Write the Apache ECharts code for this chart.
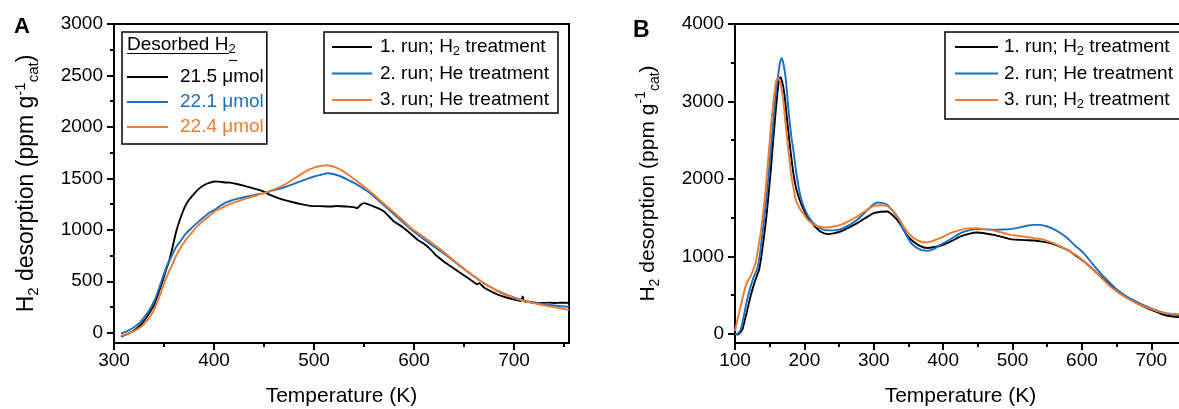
<!DOCTYPE html>
<html><head><meta charset="utf-8">
<script src="https://cdn.jsdelivr.net/npm/echarts@6/dist/echarts.min.js"></script>
<style>html,body{margin:0;padding:0;background:#fff}#c{width:1179px;height:409px}</style>
</head><body><div id="c"></div>
<script>
// ---------- DATA ----------
// Panel A: [Temperature K, H2 desorption]
const runA1 = [[307,-39],[314,-10],[320.7,26],[326,70],[330.7,124],[336,200],[340.7,286],[345,400],[349,513],[352,610],[355.7,715],[359,850],[362.4,990],[366,1100],[370.7,1220],[375,1292],[380.7,1357],[385,1400],[390.7,1438],[396,1458],[400.7,1470],[405,1468],[410.7,1460],[416,1459],[425,1440],[433,1420],[441,1398],[449.7,1372],[455,1345],[459.7,1324],[468,1295],[476,1275],[486,1252],[496,1233],[506,1230],[516,1226],[524,1232],[533,1226],[540,1220],[543,1210],[547,1245],[550,1259],[555,1245],[560,1226],[565,1205],[570,1178],[575,1130],[580,1081],[585,1050],[590,1016],[597,960],[603.5,903],[610,865],[617,805],[622,752],[630,690],[637,644],[645,590],[654,531],[660,490],[663,470],[665,482],[670,440],[677,401],[685,365],[694,337],[702,318],[707,308],[708.7,352],[710,306],[714,300],[720,292],[727,288],[735,292],[740,289],[747,291],[755,290]];
const runA2 = [[307,-10],[314,20],[320.7,58],[326,100],[330.7,156],[336,230],[340.7,318],[345,430],[349,545],[353,650],[357.4,740],[362,830],[367.4,903],[372,965],[377.4,1016],[384,1075],[390.7,1130],[396,1170],[400.7,1195],[405,1225],[410.7,1260],[416,1280],[423,1300],[433,1324],[441,1340],[450,1356],[458,1380],[467,1404],[475,1430],[483.5,1460],[492,1490],[500,1518],[507,1535],[513.4,1550],[520,1540],[527,1518],[535,1480],[543.5,1437],[552,1385],[560,1324],[568,1255],[577,1178],[587,1090],[597,1005],[607,930],[617,858],[627,790],[637,718],[647,640],[657,568],[667,500],[677,442],[687,392],[697,352],[707,322],[717,298],[727,282],[740,265],[755,252]];
const runA3 = [[307,-32],[314,-8],[320.7,19],[326,50],[330.7,91],[336,155],[340.7,237],[345,340],[349,448],[353,550],[357.4,643],[362,745],[367.4,837],[372,905],[377.4,968],[384,1040],[390.7,1097],[396,1140],[400.7,1178],[405,1200],[410.7,1227],[416,1252],[425,1282],[433,1307],[441,1330],[450,1356],[458,1385],[467,1421],[475,1465],[483.5,1518],[492,1570],[500,1605],[507,1620],[513.4,1628],[520,1612],[527,1583],[535,1530],[543.5,1469],[552,1405],[560,1340],[568,1270],[577,1194],[587,1108],[597,1018],[607,950],[617,880],[627,806],[637,725],[647,645],[657,570],[667,498],[677,440],[687,385],[697,348],[707,318],[717,293],[727,272],[740,248],[755,222]];
// Panel B
const runB1 = [[100,-5],[104,-10],[107,10],[110.7,55],[114,170],[117.9,314],[121.5,450],[125.1,572],[130,710],[134.7,830],[138,1000],[141.9,1260],[145.5,1530],[149,1862],[151.5,2100],[153.9,2378],[156,2600],[158.4,2850],[161,3100],[163.5,3280],[165.6,3312],[167.5,3270],[170.3,3148],[173,2950],[175.2,2750],[178,2520],[180.3,2340],[184,2080],[188,1880],[192,1760],[196.8,1646],[203,1530],[208,1460],[215,1388],[223,1320],[232.9,1286],[242,1295],[252,1320],[264,1370],[276,1428],[288,1495],[300,1557],[310,1575],[319.3,1578],[326,1540],[333.7,1471],[340,1390],[348,1270],[357,1190],[367,1130],[377,1106],[388,1120],[400,1148],[412,1195],[425,1256],[437,1290],[449,1307],[461,1295],[473,1277],[485,1250],[497,1221],[510,1212],[520,1208],[531,1204],[543,1190],[555,1170],[567,1130],[579,1084],[590,1015],[603,933],[615,840],[627,740],[639,640],[651,546],[663,475],[675,417],[687,360],[699,310],[711,268],[723,232],[745,210]];
const runB2 = [[100,-5],[104,0],[108.3,55],[112,200],[115.5,356],[119,490],[122.7,614],[127,730],[132.3,850],[136,1030],[139.5,1290],[143,1560],[146.7,1862],[149,2110],[151.5,2378],[154,2620],[156.5,2880],[159,3120],[161.7,3300],[164,3460],[166,3540],[167.5,3557],[169.5,3500],[171.5,3400],[173,3300],[175,3110],[177.5,2848],[181,2560],[184.7,2331],[189,2040],[194.4,1772],[201,1600],[208.8,1471],[218,1390],[228,1342],[240,1335],[252,1351],[264,1400],[276,1471],[290,1590],[298,1660],[305,1695],[312,1690],[319.3,1665],[326,1600],[333.7,1514],[340,1400],[348,1256],[355,1160],[362.5,1106],[370,1080],[377,1070],[387,1095],[396,1148],[405,1190],[414,1240],[425,1299],[437,1335],[449,1351],[461,1348],[473,1342],[485,1345],[497,1351],[509,1370],[521,1394],[531,1405],[540,1406],[550,1385],[559.4,1351],[569,1300],[578.7,1235],[590,1140],[602.6,1041],[615,905],[626.7,783],[639,670],[650.7,568],[663,490],[674.6,430],[687,375],[698.7,331],[711,290],[722.8,258],[745,232]];
const runB3 = [[100,34],[104,200],[108.2,356],[112,500],[115.4,614],[119,690],[122.6,743],[126,820],[129.8,916],[133,1080],[137,1303],[140.5,1560],[144.2,1862],[149,2378],[152,2700],[155,2960],[157.5,3160],[159.8,3277],[162,3300],[164,3280],[166,3220],[168,3120],[170.5,2930],[172.8,2718],[175,2530],[177.5,2330],[181,2050],[184.7,1860],[187.5,1733],[193,1620],[199.4,1539],[206,1460],[213.8,1410],[223,1380],[232.9,1372],[242,1385],[252,1406],[264,1455],[276,1514],[288,1585],[300,1652],[310,1660],[319.3,1652],[326,1600],[333.7,1523],[340,1430],[348,1320],[357,1240],[367.3,1191],[377,1180],[386.5,1204],[398,1245],[410.5,1299],[425,1342],[437,1360],[449,1364],[461,1350],[473,1333],[485,1305],[497,1277],[509,1262],[521,1248],[533,1232],[545,1213],[557,1175],[569,1127],[581,1070],[593,1006],[605,920],[617,826],[629,715],[641,610],[653,530],[665,460],[677,400],[689,353],[701,315],[713,280],[725,262],[745,250]];

// Tick values
const xMajorA = [300,400,500,600,700];
const xMinorA = [350,450,550,650,750];
const yMajorA = [0,500,1000,1500,2000,2500,3000];
const yMinorA = [250,750,1250,1750,2250,2750];
const xMajorB = [100,200,300,400,500,600,700];
const xMinorB = [150,250,350,450,550,650];
const yMajorB = [0,1000,2000,3000,4000];
const yMinorB = [500,1500,2500,3500];

// Legend texts
const runLabelsA = ['1. run; H{s|2} treatment','2. run; He treatment','3. run; He treatment'];
const runLabelsB = ['1. run; H{s|2} treatment','2. run; He treatment','3. run; H{s|2} treatment'];
const amountLabels = ['21.5 μmol','22.1 μmol','22.4 μmol'];

// ---------- STYLE ----------
const FONT = '"Liberation Sans", Arial, Helvetica, sans-serif';
const COLORS = ['#000000','#1b6ec2','#ee7b30'];
const AX = '#000';

const chart = echarts.init(document.getElementById('c'), null, {renderer:'canvas'});

function xAxisPair(grid, min, max, major, minor, nameGap) {
  return [
    {type:'value', gridIndex:grid, position:'bottom', min, max,
     axisLine:{show:true, onZero:false, lineStyle:{color:AX,width:2}},
     axisTick:{show:true, inside:false, length:7, customValues:major, lineStyle:{color:AX,width:2}},
     axisLabel:{show:true, customValues:major, fontSize:19, fontFamily:FONT, color:'#000', margin:8,
                formatter: v => String(v)},
     splitLine:{show:false},
     name:'Temperature (K)', nameLocation:'middle', nameGap:nameGap,
     nameTextStyle:{fontSize:21, fontFamily:FONT, color:'#000'}},
    {type:'value', gridIndex:grid, position:'bottom', min, max,
     axisLine:{show:false, onZero:false},
     axisTick:{show:true, inside:false, length:4, customValues:minor, lineStyle:{color:AX,width:2}},
     axisLabel:{show:false}, splitLine:{show:false}}
  ];
}
const yName = '{a|H}{s|2}{a| desorption (ppm g}{p|-1}{s|cat}{a|)}';
function yNameStyle(fs, ss, pad) {
  return {fontSize:fs, fontFamily:FONT, color:'#000', padding:pad,
    rich:{a:{fontSize:fs, fontFamily:FONT, lineHeight:28},
          s:{fontSize:ss, fontFamily:FONT, lineHeight:4, verticalAlign:'bottom'},
          p:{fontSize:ss, fontFamily:FONT, lineHeight:12, verticalAlign:'top'}}};
}
function yAxisPair(grid, min, max, major, minor, nameGap, nameStyle) {
  return [
    {type:'value', gridIndex:grid, position:'left', min, max,
     axisLine:{show:true, onZero:false, lineStyle:{color:AX,width:2}},
     axisTick:{show:true, inside:false, length:7, customValues:major, lineStyle:{color:AX,width:2}},
     axisLabel:{show:true, customValues:major, fontSize:19, fontFamily:FONT, color:'#000', margin:11,
                formatter: v => String(v)},
     splitLine:{show:false},
     name:yName, nameLocation:'middle', nameGap:nameGap, nameRotate:90,
     nameTextStyle:nameStyle},
    {type:'value', gridIndex:grid, position:'left', min, max,
     axisLine:{show:false, onZero:false},
     axisTick:{show:true, inside:false, length:4, customValues:minor, lineStyle:{color:AX,width:2}},
     axisLabel:{show:false}, splitLine:{show:false}}
  ];
}

function lineSeries(name, data, xi, yi, color) {
  return {type:'line', name, data, xAxisIndex:xi, yAxisIndex:yi,
    symbol:'none', showSymbol:false, smooth:0.2, clip:true,
    lineStyle:{width:1.9, color}, itemStyle:{color}};
}

const series = [
  lineSeries('runA1', runA1, 0, 0, COLORS[0]),
  lineSeries('runA2', runA2, 0, 0, COLORS[1]),
  lineSeries('runA3', runA3, 0, 0, COLORS[2]),
  lineSeries('runB1', runB1, 2, 2, COLORS[0]),
  lineSeries('runB2', runB2, 2, 2, COLORS[1]),
  lineSeries('runB3', runB3, 2, 2, COLORS[2]),
  lineSeries('molA1', [], 0, 0, COLORS[0]),
  lineSeries('molA2', [], 0, 0, COLORS[1]),
  lineSeries('molA3', [], 0, 0, COLORS[2])
];

const labelMap = {
  runA1: runLabelsA[0], runA2: runLabelsA[1], runA3: runLabelsA[2],
  runB1: runLabelsB[0], runB2: runLabelsB[1], runB3: runLabelsB[2],
  molA1: amountLabels[0], molA2: amountLabels[1], molA3: amountLabels[2]
};
const legendRich = {s:{fontSize:13, fontFamily:FONT, lineHeight:2, verticalAlign:'bottom'}};
function legendBase(extra) {
  return Object.assign({
    orient:'vertical', icon:'rect', itemHeight:2, selectedMode:false,
    borderColor:'#000', borderWidth:1.5, borderRadius:0, backgroundColor:'#fff',
    formatter: n => labelMap[n]
  }, extra);
}

const option = {
  animation:false,
  backgroundColor:'#fff',
  grid:[
    {left:114, top:24, width:455, height:319, show:true, borderColor:'#000', borderWidth:2, backgroundColor:'transparent',
     containLabel:false, outerBoundsMode:'none'},
    {left:735, top:24, width:451, height:319, show:true, borderColor:'#000', borderWidth:2, backgroundColor:'transparent',
     containLabel:false, outerBoundsMode:'none'}
  ],
  xAxis:[
    ...xAxisPair(0, 300, 755, xMajorA, xMinorA, 43),
    ...xAxisPair(1, 100, 750, xMajorB, xMinorB, 43)
  ],
  yAxis:[
    ...yAxisPair(0, -100, 3000, yMajorA, yMinorA, 73, yNameStyle(23, 15, 0)),
    ...yAxisPair(1, -120, 4000, yMajorB, yMinorB, 73, yNameStyle(21, 14, 0))
  ],
  legend:[
    legendBase({left:324, top:32, padding:[4,9,2,8], itemGap:4.5, itemWidth:40,
      data:['runA1','runA2','runA3'],
      textStyle:{fontSize:19, fontFamily:FONT, color:'#000', lineHeight:22, padding:[0,0,0,3], rich:legendRich}}),
    legendBase({left:945, top:32, padding:[4,9,8,10], itemGap:4.5, itemWidth:43,
      data:['runB1','runB2','runB3'],
      textStyle:{fontSize:19, fontFamily:FONT, color:'#000', lineHeight:22, padding:[0,0,0,1], rich:legendRich}}),
    legendBase({left:122, top:32, padding:[34,3,6,5], itemGap:3, itemWidth:41,
      data:[{name:'molA1', textStyle:{color:COLORS[0]}},{name:'molA2', textStyle:{color:COLORS[1]}},{name:'molA3', textStyle:{color:COLORS[2]}}],
      textStyle:{fontSize:19, fontFamily:FONT, color:'#000', lineHeight:22, padding:[0,0,0,7]}})
  ],
  graphic:[
    {type:'text', left:14, top:16, z:100, style:{text:'A', font:'bold 22px '+FONT, fill:'#000'}},
    {type:'text', left:633, top:19, z:100, style:{text:'B', font:'bold 23px '+FONT, fill:'#000'}},
    {type:'text', left:127, top:34, z:100, style:{text:'Desorbed H{s|2}', fontSize:19, fontFamily:FONT, fill:'#000', lineHeight:22,
      rich:{s:{fontSize:13, fontFamily:FONT, lineHeight:2, verticalAlign:'bottom'}}}},
    {type:'line', z:100, shape:{x1:127, y1:53.5, x2:229, y2:53.5}, style:{stroke:'#000', lineWidth:1.2}},
    {type:'line', z:100, shape:{x1:229, y1:60.5, x2:237, y2:60.5}, style:{stroke:'#000', lineWidth:1.2}}
  ],
  series
};
chart.setOption(option);
</script>
</body></html>
